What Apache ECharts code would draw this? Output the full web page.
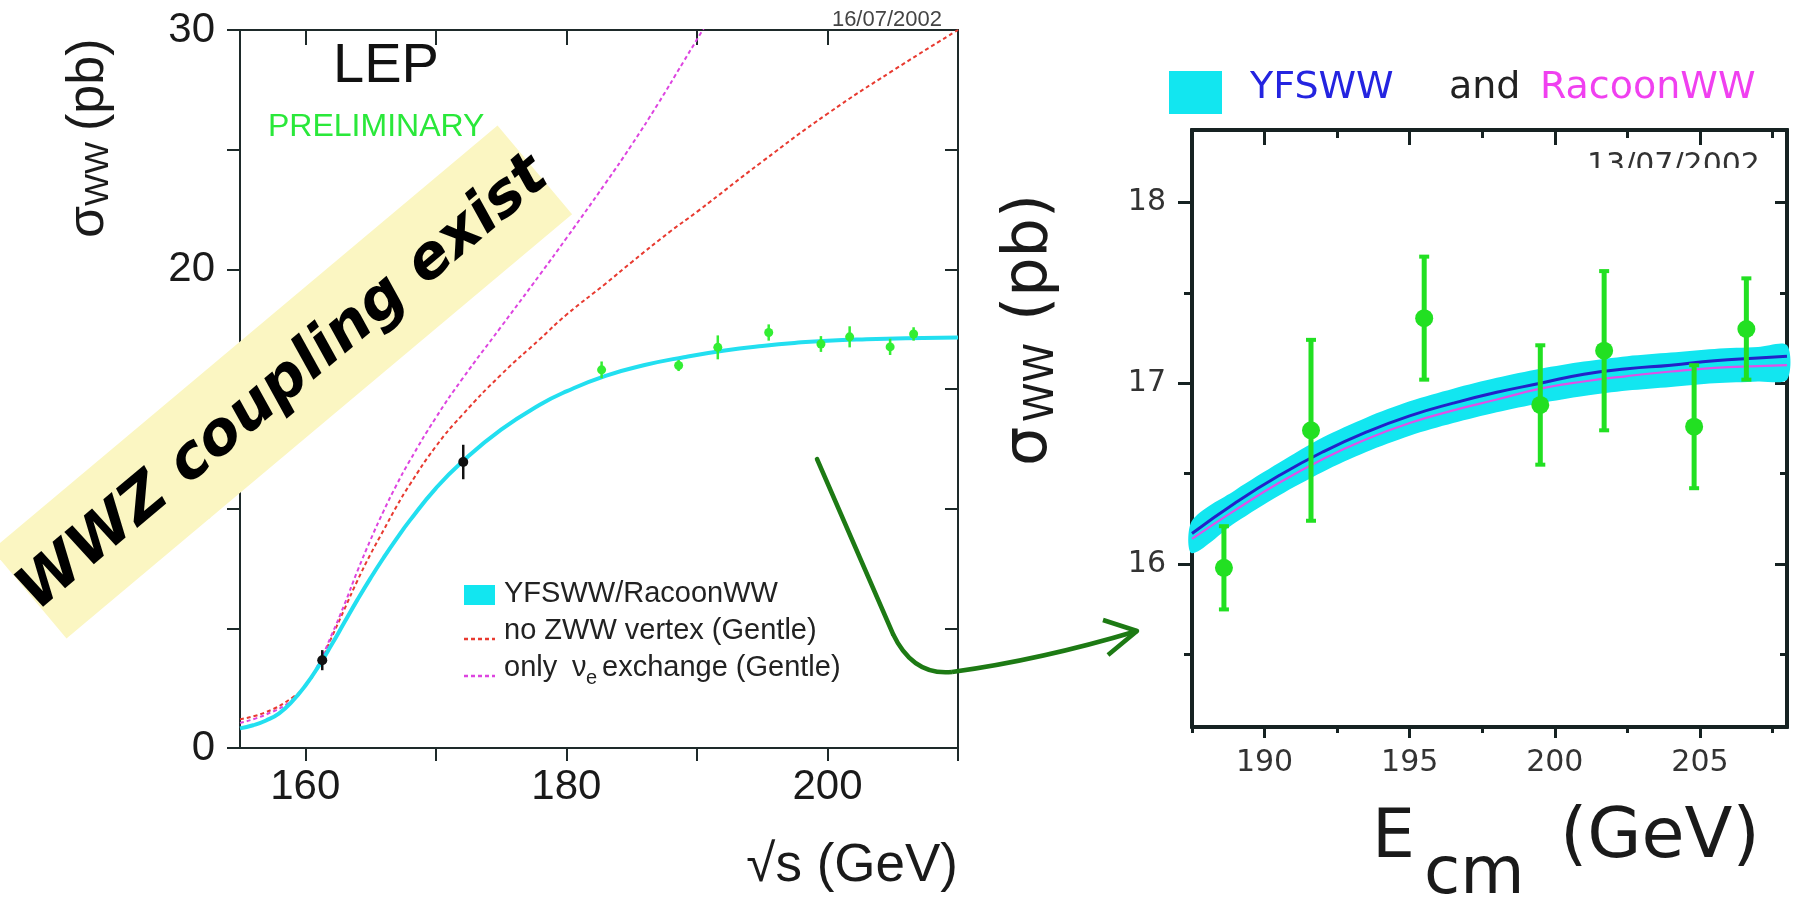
<!DOCTYPE html>
<html><head><meta charset="utf-8">
<script src="https://cdn.jsdelivr.net/npm/echarts@6/dist/echarts.min.js"></script>
<style>html,body{margin:0;padding:0;background:#fff}#c{width:1799px;height:897px}</style>
</head><body><div id="c"></div>
<script>
// ---------------- data ----------------
// LEP W-pair cross-section measurements (GeV, pb, ± pb)
const lepEcm   = [161.3, 172.1, 182.7, 188.6, 191.6, 195.5, 199.5, 201.7, 204.8, 206.6];
const lepSigma = [3.67, 11.95, 15.80, 15.98, 16.74, 17.36, 16.88, 17.18, 16.76, 17.30];
const lepErr   = [0.42, 0.72, 0.35, 0.23, 0.50, 0.34, 0.33, 0.44, 0.34, 0.28];
const nBlack   = 2; // first two measurements are drawn in black

// left panel: YFSWW/RacoonWW prediction
const yfsEcm   = [155,156,157,158,159,160,161,162,163,164,165,166,167,168,170,172,175,178,180,183,186,189,192,195,198,200,203,206,210];
const yfsSigma = [0.82,0.95,1.15,1.45,1.95,2.6,3.4,4.3,5.25,6.2,7.1,7.95,8.75,9.5,10.85,11.95,13.3,14.35,14.9,15.55,16.0,16.33,16.6,16.8,16.95,17.02,17.08,17.12,17.15];
// left panel: no ZWW vertex (Gentle)
const noZEcm   = [155,157,159,160,161,162,163,164,165,166,167,168,170,172,175,178,180,183,185,188,190,195,200,205,210];
const noZSigma = [1.2,1.5,2.1,2.6,3.4,4.6,5.8,7.0,8.1,9.1,10.1,11.0,12.6,13.9,15.6,17.1,18.1,19.4,20.3,21.6,22.4,24.5,26.5,28.3,30.0];
// left panel: only nu_e exchange (Gentle)
const nueEcm   = [155,157,159,160,161,162,163,164,165,166,167,168,170,172,175,178,180,183,185,187,189,190,191];
const nueSigma = [1.05,1.4,2.0,2.6,3.5,4.7,6.0,7.4,8.7,9.9,11.0,12.0,13.8,15.4,17.6,19.8,21.3,23.6,25.2,26.9,28.7,29.6,30.5];

// right panel (zoom): YFSWW, RacoonWW and the band
const zEcm     = [187.5,189,190.5,192,193.5,195,196.5,198,199.5,201,202.5,204,205.5,207,208];
const zYfs     = [16.17,16.34,16.49,16.62,16.73,16.82,16.89,16.95,17.00,17.05,17.08,17.10,17.125,17.14,17.15];
const zRacoon  = [16.14,16.30,16.45,16.58,16.69,16.78,16.85,16.91,16.97,17.01,17.04,17.065,17.085,17.095,17.10];
const zBandHi  = [16.24,16.41,16.56,16.70,16.81,16.90,16.97,17.03,17.08,17.12,17.15,17.17,17.19,17.20,17.21];
const zBandLo  = [16.06,16.23,16.38,16.51,16.62,16.71,16.78,16.84,16.89,16.93,16.96,16.98,17.00,17.01,17.02];

// axes / ticks
const lxMin = 155, lxMax = 210, lyMin = 0, lyMax = 30;
const lxTicks = [160,170,180,190,200,210], lxLabels = [160,180,200];
const lyTicks = [0,5,10,15,20,25,30], lyLabels = [0,10,20,30];
const rxMin = 187.5, rxMax = 208, ryMin = 15.1, ryMax = 18.4;
const rxMajor = [190,195,200,205], rxMinor = [187.5,192.5,197.5,202.5,207.5];
const ryMajor = [16,17,18], ryMinor = [15.5,16.5,17.5];

// ---------------- chart ----------------
const chart = echarts.init(document.getElementById('c'), null, {renderer:'canvas'});
const LF = 'Liberation Sans, Arial, sans-serif';
const DF = 'DejaVu Sans, Verdana, sans-serif';
const lCol = '#1e2a2a', rCol = '#162222';

function pairs(xs, ys){ return xs.map((x,i)=>[x, ys[i]]); }
function lepRows(from, to, minX){ const r=[]; for(let i=from;i<to;i++){ if(lepEcm[i]>=minX) r.push([lepEcm[i], lepSigma[i], lepErr[i]]);} return r; }

function errItem(color, r, lw, capHalf){
  return function(params, api){
    const x = api.value(0), y = api.value(1), e = api.value(2);
    const c = api.coord([x,y]), t = api.coord([x,y+e]), b = api.coord([x,y-e]);
    const ch = [
      {type:'line', shape:{x1:c[0],y1:t[1],x2:c[0],y2:b[1]}, style:{stroke:color, lineWidth:lw}},
      {type:'circle', shape:{cx:c[0],cy:c[1],r:r}, style:{fill:color}}
    ];
    if (capHalf>0){
      ch.push({type:'line', shape:{x1:c[0]-capHalf,y1:t[1],x2:c[0]+capHalf,y2:t[1]}, style:{stroke:color, lineWidth:4}});
      ch.push({type:'line', shape:{x1:c[0]-capHalf,y1:b[1],x2:c[0]+capHalf,y2:b[1]}, style:{stroke:color, lineWidth:4}});
    }
    return {type:'group', children:ch};
  };
}

function xAx(grid, pos, min, max, col, lw, tickLen, inside, ticks, labels, lblOpt){
  return {gridIndex:grid, type:'value', position:pos, min:min, max:max,
    axisLine:{show:true, onZero:false, lineStyle:{color:col, width:lw}},
    axisTick:{show:true, inside:inside, length:tickLen, customValues:ticks, lineStyle:{color:col, width:Math.max(2,lw-1)}},
    axisLabel: labels ? Object.assign({show:true, customValues:labels}, lblOpt) : {show:false},
    splitLine:{show:false}};
}

const bandRows = zEcm.map((x,i)=>[x, zBandLo[i], zBandHi[i]]);

const option = {
  backgroundColor:'#ffffff',
  animation:false,
  grid:[
    {left:240, top:30, width:718, height:718, outerBoundsMode:'none'},
    {left:1192, top:130, width:595, height:597, outerBoundsMode:'none'}
  ],
  xAxis:[
    xAx(0,'bottom',lxMin,lxMax,lCol,2,13,false,lxTicks,lxLabels,{margin:18,fontSize:42,fontFamily:LF,color:'#1a1a1a'}),
    xAx(0,'top',lxMin,lxMax,lCol,2,15,true,lxTicks,null),
    xAx(1,'bottom',rxMin,rxMax,rCol,4,11,false,rxMajor,rxMajor,{margin:21,fontSize:30,fontFamily:DF,color:'#333'}),
    xAx(1,'bottom',rxMin,rxMax,rCol,4,6,false,rxMinor,null),
    xAx(1,'top',rxMin,rxMax,rCol,4,15,true,rxMajor,null),
    xAx(1,'top',rxMin,rxMax,rCol,4,8,true,rxMinor,null)
  ],
  yAxis:[
    xAx(0,'left',lyMin,lyMax,lCol,2,13,false,lyTicks,lyLabels,{margin:25,fontSize:42,fontFamily:LF,color:'#1a1a1a'}),
    xAx(0,'right',lyMin,lyMax,lCol,2,13,true,lyTicks,null),
    xAx(1,'left',ryMin,ryMax,rCol,4,14,false,ryMajor,ryMajor,{margin:26,fontSize:30,fontFamily:DF,color:'#333'}),
    xAx(1,'left',ryMin,ryMax,rCol,4,8,false,ryMinor,null),
    xAx(1,'right',ryMin,ryMax,rCol,4,12,true,ryMajor,null),
    xAx(1,'right',ryMin,ryMax,rCol,4,7,true,ryMinor,null)
  ],
  series:[
    {type:'line', name:'no ZWW vertex (Gentle)', xAxisIndex:0, yAxisIndex:0, data:pairs(noZEcm,noZSigma), smooth:0.5, symbol:'none',
      lineStyle:{color:'#e83a30', width:2, type:[4,3]}, z:3},
    {type:'line', name:'only nu_e exchange (Gentle)', xAxisIndex:0, yAxisIndex:0, data:pairs(nueEcm,nueSigma), smooth:0.5, symbol:'none',
      lineStyle:{color:'#dd44e0', width:2, type:[4,3]}, z:3},
    {type:'line', name:'YFSWW/RacoonWW', xAxisIndex:0, yAxisIndex:0, data:pairs(yfsEcm,yfsSigma), smooth:0.5, symbol:'none',
      lineStyle:{color:'#22dff0', width:4}, z:4},
    {type:'custom', xAxisIndex:0, yAxisIndex:0, data:lepRows(0,nBlack,lxMin), renderItem:errItem('#111',5,2.5,0), encode:{x:0,y:1}, z:6},
    {type:'custom', xAxisIndex:0, yAxisIndex:0, data:lepRows(nBlack,lepEcm.length,lxMin), renderItem:errItem('#33ee33',4.5,2.5,0), encode:{x:0,y:1}, z:6},

    {type:'custom', xAxisIndex:2, yAxisIndex:2, data:bandRows, encode:{x:0,y:[1,2]}, z:2,
      renderItem:function(params, api){
        if (params.dataIndex !== 0) return null;
        const up = [], lo = [];
        for (let i=0;i<bandRows.length;i++){
          up.push(api.coord([bandRows[i][0], bandRows[i][2]]));
          lo.push(api.coord([bandRows[i][0], bandRows[i][1]]));
        }
        return {type:'polygon', shape:{points:up.concat(lo.reverse()), smooth:0.3}, style:{fill:'#12e6f0'}};
      }},
    {type:'line', name:'RacoonWW', xAxisIndex:2, yAxisIndex:2, data:pairs(zEcm,zRacoon), smooth:true, symbol:'none',
      lineStyle:{color:'#e050e8', width:2.2}, z:4},
    {type:'line', name:'YFSWW', xAxisIndex:2, yAxisIndex:2, data:pairs(zEcm,zYfs), smooth:true, symbol:'none',
      lineStyle:{color:'#2222c8', width:3}, z:5},
    {type:'custom', xAxisIndex:2, yAxisIndex:2, data:lepRows(nBlack,lepEcm.length,rxMin), renderItem:errItem('#22e022',9,5,5), encode:{x:0,y:1}, z:6}
  ],
  graphic:[
    // left panel texts
    {type:'text', x:942, y:20, z:50, style:{text:'16/07/2002', fontSize:22, fontFamily:LF, fill:'#444', align:'right', verticalAlign:'middle'}},
    {type:'text', x:333, y:67, z:50, style:{text:'LEP', fontSize:56, fontFamily:LF, fill:'#111', align:'left', verticalAlign:'middle'}},
    {type:'text', x:268, y:127, z:50, style:{text:'PRELIMINARY', fontSize:32, fontFamily:LF, fill:'#2ae83a', align:'left', verticalAlign:'middle'}},
    {type:'text', x:958, y:866, z:50, style:{text:'\u221As (GeV)', fontSize:53, fontFamily:LF, fill:'#1a1a1a', align:'right', verticalAlign:'middle'}},
    {type:'group', x:89, y:238, rotation:Math.PI/2, z:50, children:[
      {type:'text', x:0, y:0, z:50, style:{text:'\u03C3', fontSize:52, fontFamily:LF, fill:'#1a1a1a', align:'left', verticalAlign:'middle'}},
      {type:'text', x:32, y:10, z:50, style:{text:'WW', fontSize:34, fontFamily:LF, fill:'#1a1a1a', align:'left', verticalAlign:'middle'}},
      {type:'text', x:107, y:0, z:50, style:{text:'(pb)', fontSize:52, fontFamily:LF, fill:'#1a1a1a', align:'left', verticalAlign:'middle'}}
    ]},
    // left legend
    {type:'rect', z:50, shape:{x:464, y:585, width:31, height:20}, style:{fill:'#12e6f0'}},
    {type:'text', x:504, y:594, z:50, style:{text:'YFSWW/RacoonWW', fontSize:29, fontFamily:LF, fill:'#222', align:'left', verticalAlign:'middle'}},
    {type:'line', z:50, shape:{x1:464, y1:639, x2:495, y2:639}, style:{stroke:'#e83a30', lineWidth:2.5, lineDash:[4,3]}},
    {type:'text', x:504, y:631, z:50, style:{text:'no ZWW vertex (Gentle)', fontSize:29, fontFamily:LF, fill:'#222', align:'left', verticalAlign:'middle'}},
    {type:'line', z:50, shape:{x1:464, y1:676, x2:495, y2:676}, style:{stroke:'#dd44e0', lineWidth:2.5, lineDash:[4,3]}},
    {type:'text', x:504, y:668, z:50, style:{text:'only', fontSize:29, fontFamily:LF, fill:'#222', align:'left', verticalAlign:'middle'}},
    {type:'text', x:572, y:668, z:50, style:{text:'\u03BD', fontSize:29, fontFamily:LF, fill:'#222', align:'left', verticalAlign:'middle'}},
    {type:'text', x:586, y:678, z:50, style:{text:'e', fontSize:20, fontFamily:LF, fill:'#222', align:'left', verticalAlign:'middle'}},
    {type:'text', x:602, y:668, z:50, style:{text:'exchange (Gentle)', fontSize:29, fontFamily:LF, fill:'#222', align:'left', verticalAlign:'middle'}},
    // banner
    {type:'group', x:282, y:382, rotation:40*Math.PI/180, z:100, children:[
      {type:'rect', z:100, shape:{x:-330, y:-58, width:660, height:116}, style:{fill:'#fbf6c2'}},
      {type:'text', x:0, y:3, z:101, style:{text:'WWZ coupling exist', fontSize:60, fontWeight:'bold', fontStyle:'italic', fontFamily:DF, fill:'#000', align:'center', verticalAlign:'middle'}}
    ]},
    // arrow
    {type:'line', z:60, shape:{x1:817, y1:459, x2:893, y2:634}, style:{stroke:'#1d7a14', lineWidth:4.5, lineCap:'round'}},
    {type:'bezierCurve', z:60, shape:{x1:893, y1:634, cpx1:913, cpy1:676, x2:952, y2:672}, style:{stroke:'#1d7a14', lineWidth:4.5, fill:'none'}},
    {type:'bezierCurve', z:60, shape:{x1:952, y1:672, cpx1:1040, cpy1:660, x2:1137, y2:631}, style:{stroke:'#1d7a14', lineWidth:4.5, fill:'none'}},
    {type:'polyline', z:60, shape:{points:[[1103,620],[1137,631],[1108,655]]}, style:{stroke:'#1d7a14', lineWidth:4.5, fill:'none', lineJoin:'round'}},
    // right legend
    {type:'rect', z:50, shape:{x:1169, y:71, width:53, height:43}, style:{fill:'#12e6f0'}},
    {type:'text', x:1250, y:88, z:50, style:{text:'YFSWW', fontSize:38, fontFamily:DF, fill:'#2424e0', align:'left', verticalAlign:'middle'}},
    {type:'text', x:1449, y:88, z:50, style:{text:'and', fontSize:38, fontFamily:DF, fill:'#222', align:'left', verticalAlign:'middle'}},
    {type:'text', x:1540, y:88, z:50, style:{text:'RacoonWW', fontSize:38, fontFamily:DF, fill:'#f040f0', align:'left', verticalAlign:'middle'}},
    // right date (lower part hidden)
    {type:'text', x:1587, y:166, z:50, style:{text:'13/07/2002', fontSize:30, fontFamily:DF, fill:'#333', align:'left', verticalAlign:'middle'}},
    {type:'rect', z:51, shape:{x:1580, y:168, width:195, height:24}, style:{fill:'#ffffff'}},
    // right titles
    {type:'group', x:1030, y:466, rotation:Math.PI/2, z:50, children:[
      {type:'text', x:0, y:0, z:50, style:{text:'\u03C3', fontSize:62, fontFamily:DF, fill:'#1a1a1a', align:'left', verticalAlign:'middle'}},
      {type:'text', x:44, y:13, z:50, style:{text:'WW', fontSize:40, fontFamily:DF, fill:'#1a1a1a', align:'left', verticalAlign:'middle'}},
      {type:'text', x:145, y:0, z:50, style:{text:'(pb)', fontSize:62, fontFamily:DF, fill:'#1a1a1a', align:'left', verticalAlign:'middle'}}
    ]},
    {type:'text', x:1372, y:839, z:50, style:{text:'E', fontSize:68, fontFamily:DF, fill:'#1a1a1a', align:'left', verticalAlign:'middle'}},
    {type:'text', x:1424, y:876, z:50, style:{text:'cm', fontSize:66, fontFamily:DF, fill:'#1a1a1a', align:'left', verticalAlign:'middle'}},
    {type:'text', x:1560, y:839, z:50, style:{text:'(GeV)', fontSize:70, fontFamily:DF, fill:'#1a1a1a', align:'left', verticalAlign:'middle'}}
  ]
};
chart.setOption(option);
</script>
</body></html>
